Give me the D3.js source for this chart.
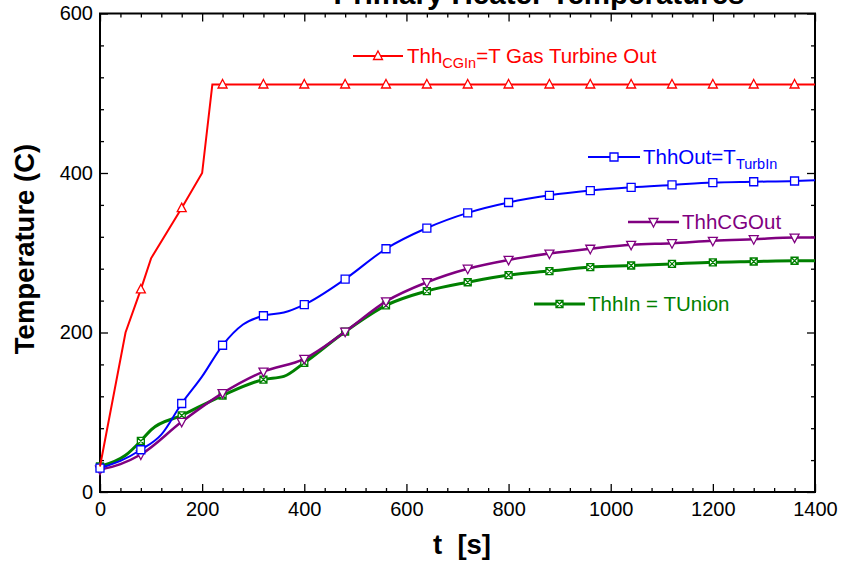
<!DOCTYPE html>
<html>
<head>
<meta charset="utf-8">
<script src="https://cdn.jsdelivr.net/npm/d3@7"></script>
<style>
  body { margin: 0; background: #fff; }
  svg { display: block; font-family: "Liberation Sans", Arial, sans-serif; }
</style>
</head>
<body>
<div id="chart-area"></div>
<script>
// time points (s) and temperatures (C)
const redT    = [0, 50, 80, 100, 160, 200, 220, 240, 320, 400, 480, 560, 640, 720, 800, 880, 960, 1040, 1120, 1200, 1280, 1360, 1400];
const redV    = [32, 200, 254, 293, 356, 400, 511, 511, 511, 511, 511, 511, 511, 511, 511, 511, 511, 511, 511, 511, 511, 511, 511];

const blueT   = [0, 40, 80, 120, 160, 200, 240, 280, 320, 360, 400, 480, 560, 640, 720, 800, 880, 960, 1040, 1120, 1200, 1280, 1360, 1400];
const blueV   = [30, 39, 53, 72, 111, 145, 184, 210, 221, 225, 235, 267, 305, 331, 350, 363, 372, 378, 382, 385, 388, 389, 390, 391];

const purpleT = [0, 40, 80, 160, 240, 320, 400, 480, 560, 640, 720, 800, 880, 960, 1040, 1120, 1200, 1280, 1360, 1400];
const purpleV = [28, 35, 47, 88, 124, 151, 167, 201, 239, 263, 280, 291, 299, 305, 310, 312, 315, 317, 319, 319];

const greenT  = [0, 50, 80, 100, 160, 240, 320, 360, 400, 480, 560, 640, 720, 800, 880, 960, 1040, 1120, 1200, 1280, 1360, 1400];
const greenV  = [32, 46, 64, 78, 96, 121, 141, 145, 162, 201, 234, 252, 263, 272, 277, 282, 284, 286, 288, 289, 290, 290];

// where the symbols sit
const markT    = [0, 80, 160, 240, 320, 400, 480, 560, 640, 720, 800, 880, 960, 1040, 1120, 1200, 1280, 1360];
const redMarkT = [80, 160, 240, 320, 400, 480, 560, 640, 720, 800, 880, 960, 1040, 1120, 1200, 1280, 1360];

const xTicks = [0, 200, 400, 600, 800, 1000, 1200, 1400];
const xMinor = [40, 80, 120, 160, 240, 280, 320, 360, 440, 480, 520, 560, 640, 680, 720, 760, 840, 880, 920, 960, 1040, 1080, 1120, 1160, 1240, 1280, 1320, 1360];
const yTicks = [0, 200, 400, 600];
const yMinor = [40, 80, 120, 160, 240, 280, 320, 360, 440, 480, 520, 560];

const d3 = window.d3;
const W = 843, H = 561;
const margin = { left: 100, right: 28, top: 13.5, bottom: 69 };
const width = W - margin.left - margin.right,
      height = H - margin.top - margin.bottom;

const svg = d3.select("#chart-area")
  .append("svg")
    .attr("width", W)
    .attr("height", H);

const g = svg.append("g")
    .attr("transform", `translate(${margin.left}, ${margin.top})`);

const x = d3.scaleLinear().domain([0, 1400]).range([0, width]);
const y = d3.scaleLinear().domain([0, 600]).range([height, 0]);

// title, only its lower part is in the frame (as in the original)
svg.append("text")
  .attr("x", 539)
  .attr("y", 4)
  .attr("text-anchor", "middle")
  .attr("font-size", "29.5px")
  .attr("font-weight", "bold")
  .text("Primary Heater Temperatures");

// axes, ticks pointing inside
function styleAxis(sel) {
  sel.select(".domain").remove();
  sel.selectAll("line").attr("stroke", "#000").attr("stroke-width", 1.3);
  sel.selectAll("text").attr("font-size", "20px").attr("fill", "#000");
}

g.append("g")
  .attr("transform", `translate(0, ${height})`)
  .call(d3.axisBottom(x).tickValues(xTicks).tickSizeInner(-8).tickSizeOuter(0).tickPadding(10).tickFormat(d3.format("d")))
  .call(styleAxis);
g.append("g")
  .attr("transform", `translate(0, ${height})`)
  .call(d3.axisBottom(x).tickValues(xMinor).tickSizeInner(-4).tickSizeOuter(0).tickFormat(""))
  .call(styleAxis);
g.append("g")
  .call(d3.axisTop(x).tickValues(xTicks).tickSizeInner(-8).tickSizeOuter(0).tickFormat(""))
  .call(styleAxis);
g.append("g")
  .call(d3.axisTop(x).tickValues(xMinor).tickSizeInner(-4).tickSizeOuter(0).tickFormat(""))
  .call(styleAxis);

g.append("g")
  .call(d3.axisLeft(y).tickValues(yTicks).tickSizeInner(-8).tickSizeOuter(0).tickPadding(7))
  .call(styleAxis);
g.append("g")
  .call(d3.axisLeft(y).tickValues(yMinor).tickSizeInner(-4).tickSizeOuter(0).tickFormat(""))
  .call(styleAxis);
g.append("g")
  .attr("transform", `translate(${width}, 0)`)
  .call(d3.axisRight(y).tickValues(yTicks).tickSizeInner(-8).tickSizeOuter(0).tickFormat(""))
  .call(styleAxis);
g.append("g")
  .attr("transform", `translate(${width}, 0)`)
  .call(d3.axisRight(y).tickValues(yMinor).tickSizeInner(-4).tickSizeOuter(0).tickFormat(""))
  .call(styleAxis);

g.append("rect")
  .attr("width", width)
  .attr("height", height)
  .attr("fill", "none")
  .attr("stroke", "#000")
  .attr("stroke-width", 2);

// axis labels
svg.append("text")
  .attr("x", 462)
  .attr("y", 554)
  .attr("text-anchor", "middle")
  .attr("font-size", "27.5px")
  .attr("font-weight", "bold")
  .style("white-space", "pre")
  .text("t  [s]");

svg.append("text")
  .attr("x", -249)
  .attr("y", 34)
  .attr("transform", "rotate(-90)")
  .attr("text-anchor", "middle")
  .attr("font-size", "27.5px")
  .attr("font-weight", "bold")
  .text("Temperature (C)");

// markers
const symbols = {
  up:     "M0,-5L4.5,3.5L-4.5,3.5Z",
  square: "M-4,-4H4V4H-4Z",
  down:   "M0,5L4.5,-3.5L-4.5,-3.5Z",
  boxX:   "M-3.5,-3.5H3.5V3.5H-3.5ZM-3.5,-3.5L3.5,3.5M3.5,-3.5L-3.5,3.5"
};

const series = [
  { name: "green",  t: greenT,  v: greenV,  color: "#008000", width: 3,   sym: "boxX",   marks: markT,    curve: d3.curveMonotoneX },
  { name: "purple", t: purpleT, v: purpleV, color: "#800080", width: 2.5, sym: "down",   marks: markT,    curve: d3.curveMonotoneX },
  { name: "blue",   t: blueT,   v: blueV,   color: "#0000ff", width: 2,   sym: "square", marks: markT,    curve: d3.curveMonotoneX },
  { name: "red",    t: redT,    v: redV,    color: "#ff0000", width: 2,   sym: "up",     marks: redMarkT, curve: d3.curveLinear }
];

for (const s of series) {
  const data = s.t.map((t, i) => ({ t: t, v: s.v[i] }));
  const line = d3.line()
    .x(d => x(d.t))
    .y(d => y(d.v))
    .curve(s.curve);

  g.append("path")
    .datum(data)
    .attr("fill", "none")
    .attr("stroke", s.color)
    .attr("stroke-width", s.width)
    .attr("d", line);

  g.selectAll(".m-" + s.name)
    .data(data.filter(d => s.marks.includes(d.t)))
    .enter()
    .append("path")
      .attr("class", "m-" + s.name)
      .attr("transform", d => `translate(${x(d.t)}, ${y(d.v)})`)
      .attr("d", symbols[s.sym])
      .attr("fill", "#fff")
      .attr("stroke", s.color)
      .attr("stroke-width", 1.3);
}

// legends placed inside the plot
const legends = [
  { color: "#ff0000", width: 2,   sym: "up",     x1: 353, x2: 403, y: 56,  tx: 407, parts: [["Thh", false], ["CGIn", true], ["=T Gas Turbine Out", false]] },
  { color: "#0000ff", width: 2,   sym: "square", x1: 588, x2: 640, y: 157, tx: 643, parts: [["ThhOut=T", false], ["TurbIn", true]] },
  { color: "#800080", width: 2.5, sym: "down",   x1: 628, x2: 679, y: 222, tx: 682, parts: [["ThhCGOut", false]] },
  { color: "#008000", width: 3,   sym: "boxX",   x1: 534, x2: 585, y: 304, tx: 588, parts: [["ThhIn = TUnion", false]] }
];

for (const l of legends) {
  svg.append("line")
    .attr("x1", l.x1).attr("x2", l.x2)
    .attr("y1", l.y).attr("y2", l.y)
    .attr("stroke", l.color)
    .attr("stroke-width", l.width);
  svg.append("path")
    .attr("transform", `translate(${(l.x1 + l.x2) / 2}, ${l.y})`)
    .attr("d", symbols[l.sym])
    .attr("fill", "#fff")
    .attr("stroke", l.color)
    .attr("stroke-width", 1.3);

  const txt = svg.append("text")
    .attr("x", l.tx)
    .attr("y", l.y + 7)
    .attr("fill", l.color)
    .attr("font-size", "20.5px");
  let sub = false;
  for (const [str, isSub] of l.parts) {
    const ts = txt.append("tspan").text(str);
    if (isSub && !sub) { ts.attr("font-size", "14.5px").attr("dy", 5); sub = true; }
    else if (!isSub && sub) { ts.attr("dy", -5); sub = false; }
  }
}
</script>
</body>
</html>
